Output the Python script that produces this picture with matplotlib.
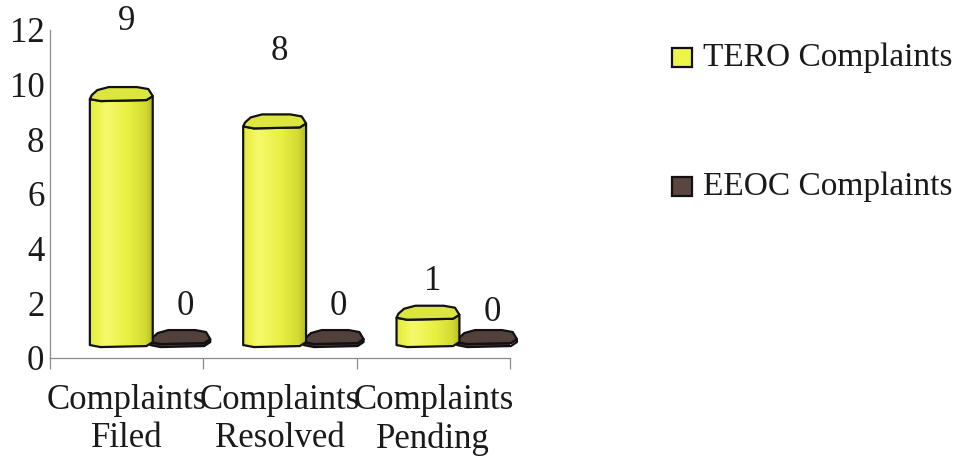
import numpy as np
import matplotlib
matplotlib.use("Agg")
import matplotlib.pyplot as plt
from matplotlib.patches import Polygon, Rectangle
from matplotlib.colors import LinearSegmentedColormap

# ---- data ----
categories = ["Complaints\nFiled", "Complaints\nResolved", "Complaints\nPending"]
series_names = ["TERO Complaints", "EEOC Complaints"]
tero_values = [9, 8, 1]
eeoc_values = [0, 0, 0]
y_ticks = [0, 2, 4, 6, 8, 10, 12]

# ---- style ----
plt.rcParams['font.family'] = ['Liberation Serif', 'DejaVu Serif']
FS = 25
TXT = '#1a1a1a'
YELLOW_CAP = '#dce63e'
BROWN_TOP = '#52403a'
label_off_tero = [3.3, 3.2, 1.8]
label_off_eeoc = [1.9, 1.9, 1.65]

W, H = 964, 466
fig = plt.figure(figsize=(W / 100, H / 100), dpi=100)
ax_l, ax_r, ax_t, ax_b = 50, 510, 30, 358
ax = fig.add_axes([ax_l / W, (H - ax_b) / H, (ax_r - ax_l) / W, (ax_b - ax_t) / H])
ax.set_xlim(0, 3)
ax.set_ylim(0, 12)

sx = 3 / (ax_r - ax_l)    # data units per px (x)
sy = 12 / (ax_b - ax_t)   # data units per px (y)

base = 0.4  # raised floor of the 3D bars

# octagon shape (fractions of width, px up)
front = [(0.0, 2), (0.17, 0), (0.9, 1), (1.0, 5)]
cap_back = [(0.93, 12), (0.75, 14), (0.3, 14), (0.12, 11), (0.03, 6)]

body_cmap = LinearSegmentedColormap.from_list(
    'yb', [(0, '#e4ec38'), (0.25, '#f5f96c'), (0.6, '#eaf043'), (0.88, '#d3da33'), (1.0, '#b5bb27')])
brown_cmap = LinearSegmentedColormap.from_list('br', [(0, '#3f2f2b'), (0.4, '#54423c'), (1.0, '#3a2b27')])


def draw_cyl(L, wd, top, cmap, capcol, z):
    pts_front_bot = [(L + fx * wd, base + dy * sy) for fx, dy in front]
    pts_front_top = [(L + fx * wd, top + dy * sy) for fx, dy in front]
    body = pts_front_bot + pts_front_top[::-1]
    ax.add_patch(Polygon(body, closed=True, facecolor='none', edgecolor='#111111', lw=1.6,
                         zorder=z + 0.2, clip_on=False, joinstyle='round'))
    grad = np.linspace(0, 1, 256).reshape(1, -1)
    im = ax.imshow(grad, cmap=cmap, extent=[L, L + wd, base - 0.2, top + 1.0],
                   aspect='auto', zorder=z, origin='lower')
    im.set_clip_path(Polygon(body, closed=True, transform=ax.transData))
    cap = pts_front_top + [(L + fx * wd, top + dy * sy) for fx, dy in cap_back]
    ax.add_patch(Polygon(cap, closed=True, facecolor=capcol, edgecolor='#111111', lw=1.6,
                         zorder=z + 0.3, clip_on=False, joinstyle='round'))


x = np.arange(len(categories))
tero_L, tero_w = 0.26, 0.41
eeoc_L, eeoc_w = 0.655, 0.39

for i in x:
    draw_cyl(i + eeoc_L, eeoc_w, base + eeoc_values[i] + 3 * sy, brown_cmap, BROWN_TOP, 2)
    draw_cyl(i + tero_L, tero_w, base + tero_values[i], body_cmap, YELLOW_CAP, 4)
    ax.text(i + tero_L + tero_w / 2 + 5 * sx, tero_values[i] + label_off_tero[i], str(tero_values[i]),
            ha='center', va='center', fontsize=FS, color=TXT)
    ax.text(i + eeoc_L + eeoc_w / 2 + 5 * sx, eeoc_values[i] + label_off_eeoc[i], str(eeoc_values[i]),
            ha='center', va='center', fontsize=FS, color=TXT)

ax.set_xlim(0, 3)
ax.set_ylim(0, 12)

for s in ['top', 'right']:
    ax.spines[s].set_visible(False)
for s in ['left', 'bottom']:
    ax.spines[s].set_color('#8a8a8a')
    ax.spines[s].set_linewidth(0.9)

ax.set_yticks(y_ticks)
ax.set_yticklabels([str(t) for t in y_ticks], fontsize=FS, color=TXT)
ax.tick_params(axis='y', length=0, pad=4)

ax.set_xticks([0, 1, 2, 3])
ax.set_xticklabels([])
ax.tick_params(axis='x', which='major', length=8, color='#8a8a8a', width=0.9, direction='out')
ax.set_xticks(x + 0.5, minor=True)
ax.set_xticklabels(categories, minor=True, fontsize=FS, color=TXT, linespacing=1.2)
ax.tick_params(axis='x', which='minor', length=0, pad=19)

leg = [(series_names[0], '#eef54a', 48), (series_names[1], '#5a4540', 177)]
for name, col, ytop in leg:
    fig.patches.append(Rectangle((672 / W, 1 - (ytop + 19) / H), 20 / W, 19 / H, transform=fig.transFigure,
                                 facecolor=col, edgecolor='#111111', lw=1.6))
    fig.text(703 / W, 1 - (ytop + 10) / H, name, fontsize=24, color=TXT, ha='left', va='center')

fig.savefig('out.png', dpi=100)
